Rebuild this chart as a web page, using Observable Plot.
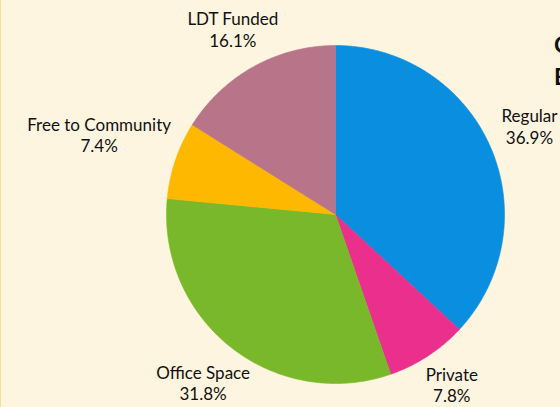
<!DOCTYPE html>
<html>
<head>
<meta charset="utf-8">
<script src="https://cdn.jsdelivr.net/npm/d3@7"></script>
<script src="https://cdn.jsdelivr.net/npm/@observablehq/plot@0.6"></script>
<style>
  html, body { margin: 0; padding: 0; background: #FDF5DF; overflow: hidden; }
  #wrap { position: relative; width: 560px; height: 407px; overflow: hidden; }
  #edge { position: absolute; left: 0; top: 0; width: 1px; height: 407px; background: #FFE08A; }
  #title { position: absolute; left: 554px; top: 28px; font: bold 23px Lato, sans-serif; line-height: 32px; color: #111; white-space: nowrap; }
</style>
</head>
<body>
<div id="wrap">
  <div id="chart"></div>
  <div id="edge"></div>
  <div id="title">C<br>E</div>
</div>
<script>
const categories = ["Regular", "Private", "Office Space", "Free to Community", "LDT Funded"];
const shares = [36.9, 7.8, 31.8, 7.4, 16.1];
const colors = ["#0A8FE0", "#EA308C", "#78B82A", "#FFB800", "#B87488"];

const R = 169;            // radius in px
const CX = 335, CY = 214; // pie centre in px
const fontSize = 17;
const lineHeight = 1.25;
const fontFamily = "Lato, sans-serif";

const total = d3.sum(shares);
let acc = 0;
const slices = categories.map((c, i) => {
  const a0 = acc / total * 2 * Math.PI;
  acc += shares[i];
  const a1 = acc / total * 2 * Math.PI;
  return {category: c, value: shares[i], a0, a1};
});

// polygon outline for each slice (clockwise from 12 o'clock)
const pts = [];
for (const s of slices) {
  pts.push({category: s.category, x: 0, y: 0});
  const n = Math.max(2, Math.ceil((s.a1 - s.a0) / (Math.PI / 360)));
  for (let k = 0; k <= n; k++) {
    const t = s.a0 + (s.a1 - s.a0) * k / n;
    pts.push({category: s.category, x: Math.sin(t), y: Math.cos(t)});
  }
  pts.push({category: s.category, x: 0, y: 0});
}

// label placement: box just outside the rim along the mid-angle, kept inside the frame
const ctx = document.createElement("canvas").getContext("2d");
ctx.font = `${fontSize}px ${fontFamily}`;
const gap = 21, hh = fontSize * lineHeight / 2 + fontSize / 2;
const labels = slices.map(s => {
  const a = (s.a0 + s.a1) / 2;
  const t = `${s.category}\n${s.value.toFixed(1)}%`;
  const hw = d3.max(t.split("\n"), l => ctx.measureText(l).width) / 2;
  const sn = Math.sin(a), cs = Math.cos(a);
  const d = R + gap + Math.min(hw / Math.abs(sn || 1e-9), hh / Math.abs(cs || 1e-9));
  let px = CX + sn * d, py = CY - cs * d;
  px = Math.min(px, 557 - hw);
  py = Math.min(py, 384);
  return {text: t, x: (px - CX) / R, y: (CY - py) / R};
});

const chart = Plot.plot({
  width: 560,
  height: 407,
  margin: 0,
  style: {background: "#FDF5DF", fontFamily, overflow: "visible"},
  x: {domain: [-1, 1], range: [CX - R, CX + R], axis: null},
  y: {domain: [-1, 1], range: [CY + R, CY - R], axis: null},
  color: {domain: categories, range: colors},
  marks: [
    Plot.line(pts, {x: "x", y: "y", z: "category", fill: "category", stroke: "category", strokeWidth: 0.6, curve: "linear"}),
    Plot.text(labels, {x: "x", y: "y", text: "text", fontSize, lineHeight, fill: "#111"})
  ]
});
document.getElementById("chart").appendChild(chart);
</script>
</body>
</html>
